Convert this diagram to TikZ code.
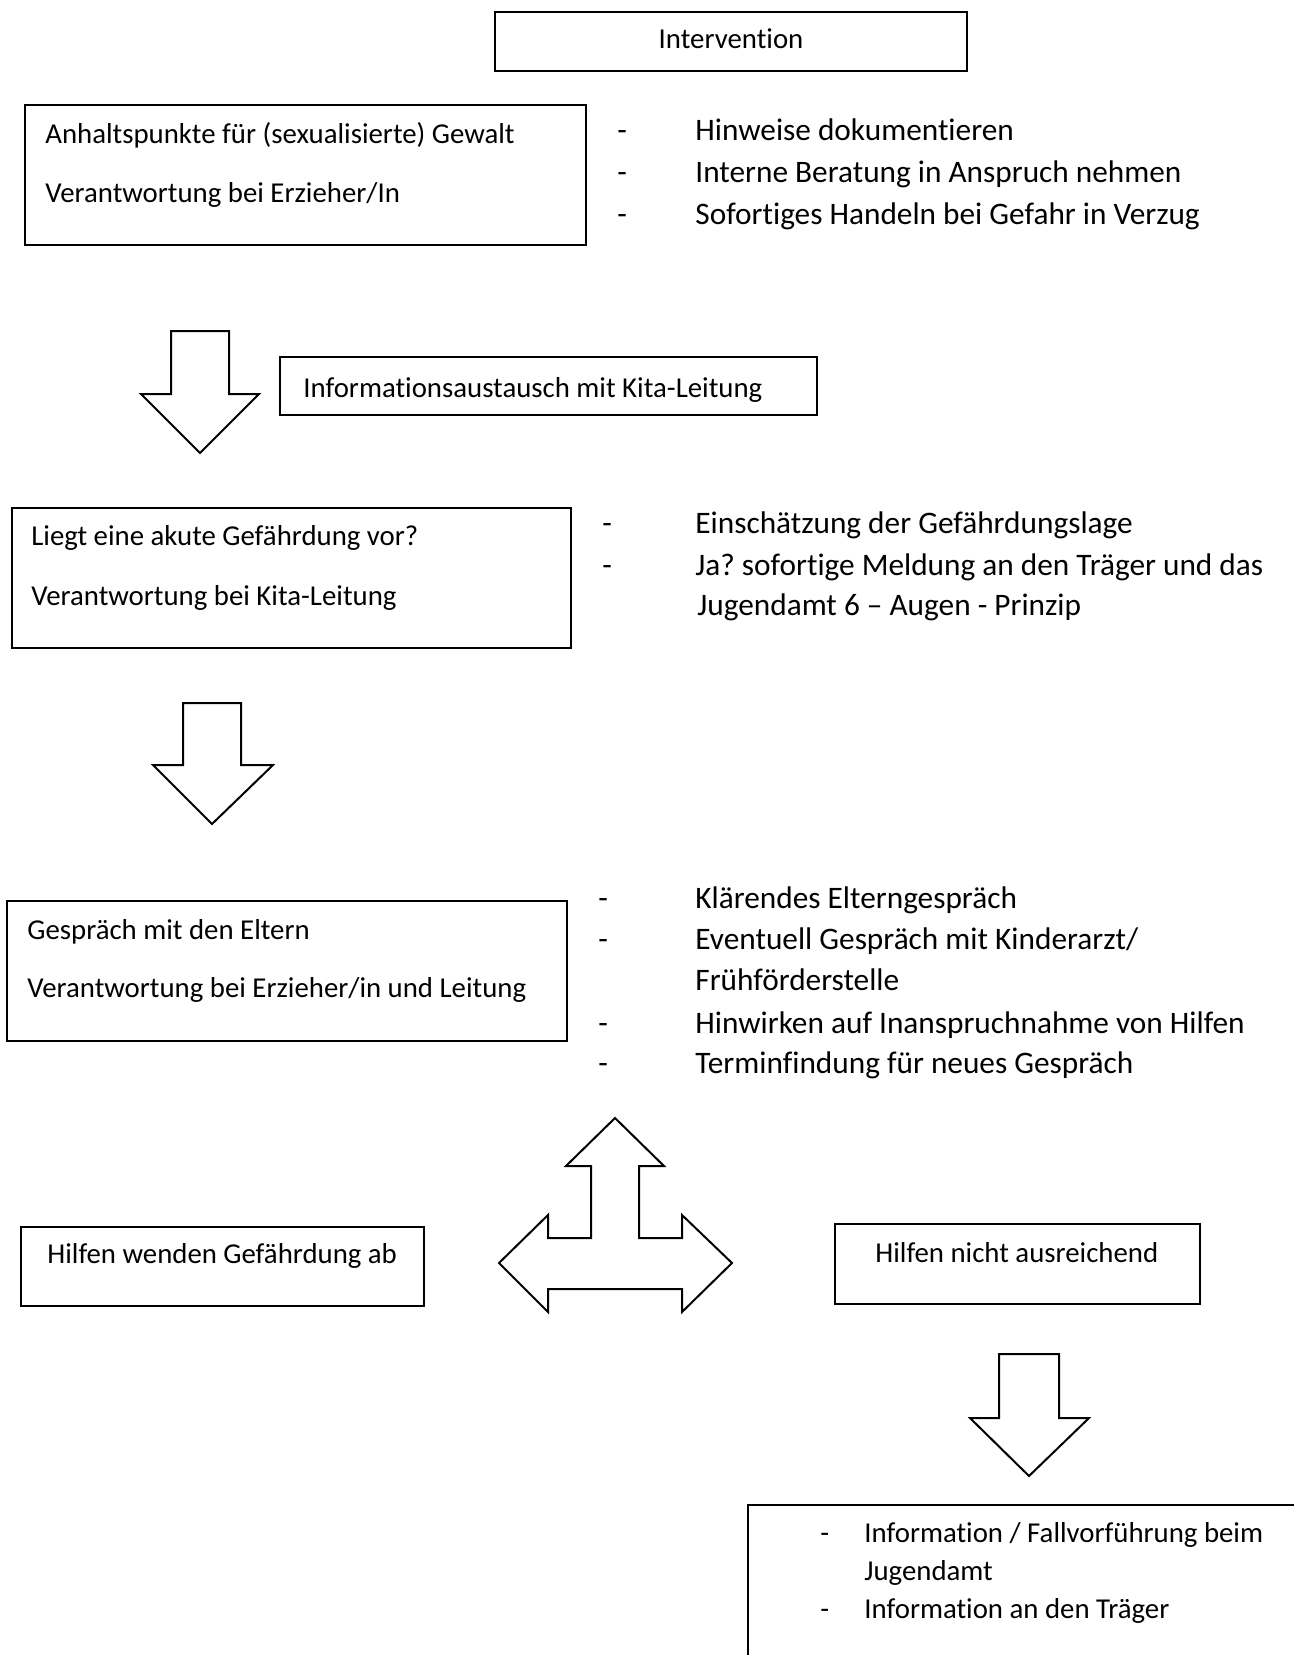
\documentclass[tikz,border=0pt]{standalone}
\usepackage{fontspec}
\setmainfont{Carlito}[Ligatures={NoCommon}]
\usetikzlibrary{fit}
\frenchspacing
\begin{document}
\begin{tikzpicture}[x=0.5pt,y=-0.5pt,
  box/.style={draw, line width=1pt, inner sep=0pt},
  txt/.style={inner sep=0pt, anchor=base west, font=\fontsize{14.4}{17}\selectfont},
  ctxt/.style={inner sep=0pt, anchor=base, font=\fontsize{14.4}{17}\selectfont},
  bul/.style={inner sep=0pt, anchor=base west, font=\fontsize{15.65}{19}\selectfont},
  blockarrow/.style={draw, line width=1pt, line join=miter, fill=white}]
\clip (0,0) rectangle (1294,1655);
\fill[white] (0,0) rectangle (1294,1655);

% Intervention
\node[box, fit={(495,12) (967,71)}] (intv) {};
\node[ctxt] (intvt) at (731,48) {Intervention};

% Box 1
\node[box, fit={(25,105) (586,245)}] (b1) {};
\node[txt] (b1a) at (45,143) {Anhaltspunkte für (sexualisierte) Gewalt};
\node[txt] (b1b) at (45,202) {Verantwortung bei Erzieher/In};
\node[bul] (d11) at (617,140) {-};
\node[bul] (l11) at (695,140) {Hinweise dokumentieren};
\node[bul] (d12) at (617,182) {-};
\node[bul] (l12) at (695,182) {Interne Beratung in Anspruch nehmen};
\node[bul] (d13) at (617,224) {-};
\node[bul] (l13) at (695,224) {Sofortiges Handeln bei Gefahr in Verzug};

% Arrow 1
\draw[blockarrow] (171,331) -- (229,331) -- (229,394) -- (259,394) -- (200,453)
  -- (141,394) -- (171,394) -- cycle;

% Info box
\node[box, fit={(280,357) (817,415)}] (info) {};
\node[txt] (infot) at (303,397) {Informationsaustausch mit Kita-Leitung};

% Box 2
\node[box, fit={(12,508) (571,648)}] (b2) {};
\node[txt] (b2a) at (31,545) {Liegt eine akute Gefährdung vor?};
\node[txt] (b2b) at (31,605) {Verantwortung bei Kita-Leitung};
\node[bul] (d21) at (602,533) {-};
\node[bul] (l21) at (695,533) {Einschätzung der Gefährdungslage};
\node[bul] (d22) at (602,575) {-};
\node[bul] (l22) at (695,575) {Ja? sofortige Meldung an den Träger und das};
\node[bul] (l23) at (697,615) {Jugendamt 6 – Augen - Prinzip};

% Arrow 2
\draw[blockarrow] (183,703) -- (241,703) -- (241,765) -- (273,765) -- (212,824)
  -- (153,765) -- (183,765) -- cycle;

% Box 3
\node[box, fit={(7,901) (567,1041)}] (b3) {};
\node[txt] (b3a) at (27,939) {Gespräch mit den Eltern};
\node[txt] (b3b) at (27,997) {Verantwortung bei Erzieher/in und Leitung};
\node[bul] (d31) at (598,908) {-};
\node[bul] (l31) at (695,908) {Klärendes Elterngespräch};
\node[bul] (d32) at (598,949) {-};
\node[bul] (l32) at (695,949) {Eventuell Gespräch mit Kinderarzt/};
\node[bul] (l33) at (695,990) {Frühförderstelle};
\node[bul] (d34) at (598,1033) {-};
\node[bul] (l34) at (695,1033) {Hinwirken auf Inanspruchnahme von Hilfen};
\node[bul] (d35) at (598,1073) {-};
\node[bul] (l35) at (695,1073) {Terminfindung für neues Gespräch};

% Three-way arrow
\draw[blockarrow] (615,1118) -- (664,1166) -- (639,1166) -- (639,1238) -- (682,1238)
  -- (682,1215) -- (732,1263) -- (682,1312) -- (682,1289) -- (548,1289) -- (548,1312)
  -- (499,1263) -- (548,1215) -- (548,1238) -- (591,1238) -- (591,1166) -- (566,1166) -- cycle;

% Outcome boxes
\node[box, fit={(21,1227) (424,1306)}] (ok) {};
\node[txt] (okt) at (47,1263) {Hilfen wenden Gefährdung ab};
\node[box, fit={(835,1224) (1200,1304)}] (nok) {};
\node[txt] (nokt) at (875,1262) {Hilfen nicht ausreichend};

% Arrow 3
\draw[blockarrow] (999,1354) -- (1059,1354) -- (1059,1418) -- (1089,1418) -- (1029,1476)
  -- (970,1418) -- (999,1418) -- cycle;

% Last box
\node[box, fit={(748,1505) (1320,1680)}] (last) {};
\node[txt] (d41) at (820,1542) {-};
\node[txt] (l41) at (864,1542) {Information / Fallvorführung beim};
\node[txt] (l42) at (864,1580) {Jugendamt};
\node[txt] (d43) at (820,1618) {-};
\node[txt] (l43) at (864,1618) {Information an den Träger};
\end{tikzpicture}
\end{document}
